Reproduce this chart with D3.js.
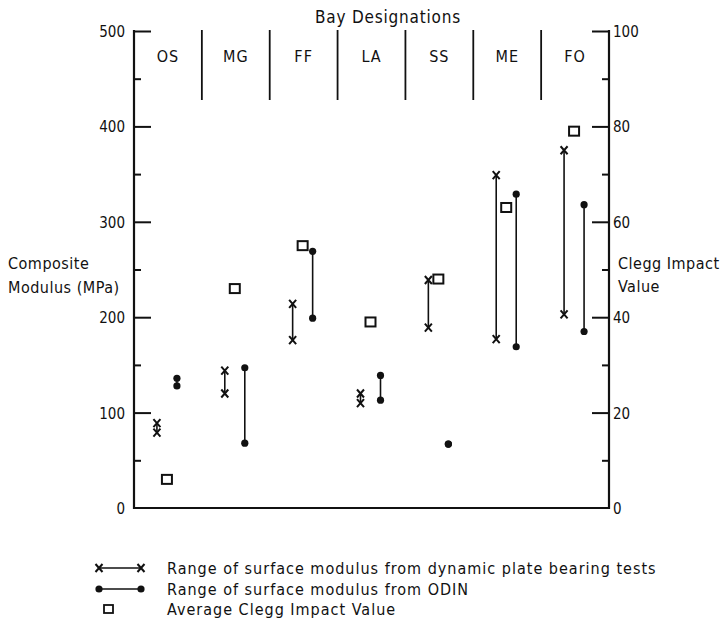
<!DOCTYPE html>
<html>
	<head>
		<script src="https://d3js.org/d3.v7.min.js"></script>
		<title>Composite Modulus by Bay</title>
		<style>
			body { margin: 0; background: #fff; }
			text { font-family: "DejaVu Sans Condensed", "DejaVu Sans", sans-serif; fill: #111; }
		</style>
	</head>
	<body>
		<svg width="722" height="623"></svg>
		<script>
			// bays along the top
			const bays = ["OS", "MG", "FF", "LA", "SS", "ME", "FO"];
			// plate bearing range [low, high] in MPa
			const plateLow  = [79, 120, 176, 110, 189, 177, 203];
			const plateHigh = [89, 144, 214, 120, 239, 349, 375];
			// ODIN range [low, high] in MPa
			const odinLow  = [128, 68, 199, 113, 67, 169, 185];
			const odinHigh = [136, 147, 269, 139, 67, 329, 318];
			// average Clegg impact value
			const clegg = [6, 46, 55, 39, 48, 63, 79];

			const leftTicks = [0, 100, 200, 300, 400, 500];
			const rightTicks = [0, 20, 40, 60, 80, 100];
			const legendItems = [
				"Range of surface modulus from dynamic plate bearing tests",
				"Range of surface modulus from ODIN",
				"Average Clegg Impact Value"
			];

			const svg = d3.select("svg");
			const x0 = 134, x1 = 609, yBot = 508, yTop = 31;

			const x = d3.scaleBand().domain(bays).range([x0, x1]);
			const y = d3.scaleLinear().domain([0, 500]).range([yBot, yTop]);
			const yr = d3.scaleLinear().domain([0, 100]).range([yBot, yTop]);

			const ink = "#111";

			// left axis
			const leftAxis = svg.append("g").attr("transform", `translate(${x0},0)`)
				.call(d3.axisRight(y).tickValues(d3.range(0, 501, 50)).tickSize(0).tickFormat(""));
			leftAxis.select(".domain").remove();
			leftAxis.selectAll(".tick").append("line")
				.attr("x2", d => d === 0 ? 0 : (d % 100 === 0 ? 17 : 7))
				.attr("stroke", ink).attr("stroke-width", 2);
			svg.append("line").attr("x1", x0).attr("x2", x0).attr("y1", yTop - 1).attr("y2", yBot + 1)
				.attr("stroke", ink).attr("stroke-width", 2.2);
			svg.append("g").selectAll("text").data(leftTicks).join("text")
				.attr("x", x0 - 9).attr("y", d => y(d) + 6)
				.attr("text-anchor", "end").attr("font-size", 15)
				.text(d => d);

			// right axis
			const rightAxis = svg.append("g").attr("transform", `translate(${x1},0)`)
				.call(d3.axisLeft(yr).tickValues(d3.range(0, 101, 10)).tickSize(0).tickFormat(""));
			rightAxis.select(".domain").remove();
			rightAxis.selectAll(".tick").append("line")
				.attr("x2", d => d === 0 ? 0 : (d % 20 === 0 ? -17 : -7))
				.attr("stroke", ink).attr("stroke-width", 2);
			svg.append("line").attr("x1", x1).attr("x2", x1).attr("y1", yTop - 1).attr("y2", yBot + 1)
				.attr("stroke", ink).attr("stroke-width", 2.2);
			svg.append("g").selectAll("text").data(rightTicks).join("text")
				.attr("x", x1 + 4).attr("y", d => yr(d) + 6)
				.attr("font-size", 15)
				.text(d => d);

			// bottom axis
			svg.append("line").attr("x1", x0).attr("x2", x1).attr("y1", yBot).attr("y2", yBot)
				.attr("stroke", ink).attr("stroke-width", 2.2);

			// axis titles
			svg.append("text").attr("x", 388).attr("y", 23).attr("text-anchor", "middle")
				.attr("font-size", 17).attr("letter-spacing", 0.8).text("Bay Designations");
			const side = svg.append("g").attr("font-size", 16).attr("letter-spacing", 0.5);
			side.append("text").attr("x", 8).attr("y", 269).text("Composite");
			side.append("text").attr("x", 8).attr("y", 293).text("Modulus (MPa)");
			side.append("text").attr("x", 618).attr("y", 269).text("Clegg Impact");
			side.append("text").attr("x", 618).attr("y", 292).text("Value");

			// bay separators and labels
			svg.append("g").selectAll("line").data(bays.slice(1)).join("line")
				.attr("x1", d => x(d)).attr("x2", d => x(d))
				.attr("y1", 30).attr("y2", 100)
				.attr("stroke", ink).attr("stroke-width", 1.8);
			svg.append("g").selectAll("text").data(bays).join("text")
				.attr("x", d => x(d) + x.bandwidth() / 2).attr("y", 62)
				.attr("text-anchor", "middle").attr("font-size", 16).attr("letter-spacing", 1)
				.text(d => d);

			const cx = x.bandwidth() / 2;
			const offPlate = cx - 11, offClegg = cx - 1, offOdin = cx + 9;

			function cross(g, px, py) {
				g.append("path")
					.attr("d", `M${px - 3.5},${py - 4}L${px + 3.5},${py + 4}M${px + 3.5},${py - 4}L${px - 3.5},${py + 4}`)
					.attr("stroke", ink).attr("stroke-width", 2).attr("fill", "none");
			}

			// plate bearing ranges
			const plate = svg.append("g");
			bays.forEach((b, i) => {
				const px = x(b) + offPlate;
				plate.append("line").attr("x1", px).attr("x2", px)
					.attr("y1", y(plateLow[i])).attr("y2", y(plateHigh[i]))
					.attr("stroke", ink).attr("stroke-width", 1.6);
				cross(plate, px, y(plateLow[i]));
				cross(plate, px, y(plateHigh[i]));
			});

			// ODIN ranges
			const odin = svg.append("g");
			bays.forEach((b, i) => {
				const px = x(b) + offOdin;
				odin.append("line").attr("x1", px).attr("x2", px)
					.attr("y1", y(odinLow[i])).attr("y2", y(odinHigh[i]))
					.attr("stroke", ink).attr("stroke-width", 1.6);
				odin.selectAll(null).data([odinLow[i], odinHigh[i]]).join("circle")
					.attr("cx", px).attr("cy", d => y(d)).attr("r", 3.6).attr("fill", ink);
			});

			// Clegg squares
			svg.append("g").selectAll("rect").data(clegg).join("rect")
				.attr("x", (d, i) => x(bays[i]) + offClegg - 5)
				.attr("y", d => yr(d) - 4.5)
				.attr("width", 10).attr("height", 9)
				.attr("fill", "none").attr("stroke", ink).attr("stroke-width", 2);

			// legend
			const lg = svg.append("g");
			const ly = [568, 589, 609];
			lg.append("line").attr("x1", 99).attr("x2", 141).attr("y1", ly[0]).attr("y2", ly[0])
				.attr("stroke", ink).attr("stroke-width", 1.6);
			cross(lg, 99, ly[0]);
			cross(lg, 141, ly[0]);
			lg.append("line").attr("x1", 99).attr("x2", 141).attr("y1", ly[1]).attr("y2", ly[1])
				.attr("stroke", ink).attr("stroke-width", 1.6);
			lg.selectAll("circle").data([99, 141]).join("circle")
				.attr("cx", d => d).attr("cy", ly[1]).attr("r", 3.6).attr("fill", ink);
			lg.append("rect").attr("x", 104).attr("y", ly[2] - 4).attr("width", 9).attr("height", 8)
				.attr("fill", "none").attr("stroke", ink).attr("stroke-width", 1.8);
			lg.selectAll("text").data(legendItems).join("text")
				.attr("x", 167).attr("y", (d, i) => ly[i] + 6)
				.attr("font-size", 16).attr("letter-spacing", 1)
				.text(d => d);
		</script>
	</body>
</html>
